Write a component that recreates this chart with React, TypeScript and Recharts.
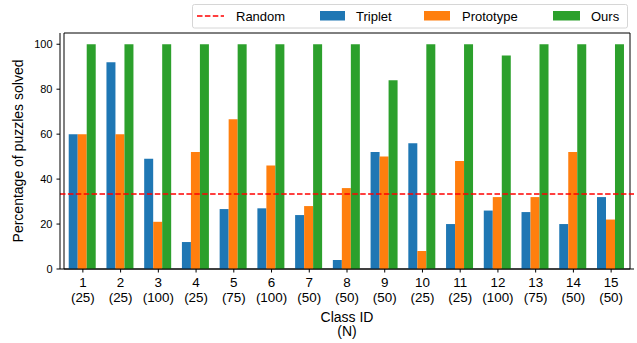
import React from 'react';
import { BarChart, Bar, XAxis, YAxis, ReferenceLine, ReferenceArea } from 'recharts';

const classIds = ['1', '2', '3', '4', '5', '6', '7', '8', '9', '10', '11', '12', '13', '14', '15'];
const classN = ['25', '25', '100', '25', '75', '100', '50', '50', '50', '25', '25', '100', '75', '50', '50'];
const triplet = [60, 92, 49, 12, 26.67, 27, 24, 4, 52, 56, 20, 26, 25.33, 20, 32];
const prototype = [60, 60, 21, 52, 66.67, 46, 28, 36, 50, 8, 48, 32, 32, 52, 22];
const ours = [100, 100, 100, 100, 100, 100, 100, 100, 84, 100, 100, 95, 100, 100, 100];
const randomLevel = 33.33;
const yTicks = [0, 20, 40, 60, 80, 100];

const seriesNames = { random: 'Random', triplet: 'Triplet', prototype: 'Prototype', ours: 'Ours' };
const colors = { triplet: '#1f77b4', prototype: '#ff7f0e', ours: '#2ca02c', random: '#ff0000' };

const data = classIds.map((id, i) => ({
  name: id,
  n: classN[i],
  triplet: triplet[i],
  prototype: prototype[i],
  ours: ours[i],
}));

const FONT = '"Liberation Sans", Arial, Helvetica, sans-serif';

const XTick = (props: any) => {
  const { x, y, payload, index } = props;
  const n = classN[index] ?? data.find((d) => d.name === payload.value)?.n;
  return (
    <text x={x} y={y} textAnchor="middle" fontSize={13.4} fontFamily={FONT} fill="#000">
      <tspan x={x} dy={12.8}>{payload.value}</tspan>
      <tspan x={x} dy={14.7}>({n})</tspan>
    </text>
  );
};

const XLabel = (props: any) => {
  const vb = props.viewBox || {};
  const cx = (vb.x ?? 60) + (vb.width ?? 574) / 2;
  const top = vb.y ?? 269;
  return (
    <text x={cx} y={top} textAnchor="middle" fontSize={14} fontFamily={FONT} fill="#000">
      <tspan x={cx} dy={52.7}>Class ID</tspan>
      <tspan x={cx} dy={13.8}>(N)</tspan>
    </text>
  );
};

const LegendBox = () => (
  <svg
    width={437}
    height={26}
    style={{ position: 'absolute', left: 192, top: 4, overflow: 'visible' }}
    fontFamily={FONT}
  >
    <rect x={0.5} y={0.5} width={435} height={23.5} rx={2} fill="#fff" stroke="#d6d6d6" strokeWidth={1} />
    <line x1={5} x2={32} y1={12} y2={12} stroke={colors.random} strokeWidth={1.5} strokeDasharray="5.5 2.4" />
    <text x={44} y={16.5} fontSize={13} fill="#000">{seriesNames.random}</text>
    <rect x={128} y={7} width={25} height={9.5} fill={colors.triplet} />
    <text x={164} y={16.5} fontSize={13} fill="#000">{seriesNames.triplet}</text>
    <rect x={232} y={7} width={26} height={9.5} fill={colors.prototype} />
    <text x={270} y={16.5} fontSize={13} fill="#000">{seriesNames.prototype}</text>
    <rect x={361} y={7} width={27} height={9.5} fill={colors.ours} />
    <text x={399} y={16.5} fontSize={13} fill="#000">{seriesNames.ours}</text>
  </svg>
);

export default function App() {
  return (
    <div style={{ position: 'absolute', left: 0, top: 0, width: 637, height: 343, background: '#fff' }}>
      <BarChart
        width={637}
        height={343}
        data={data}
        margin={{ top: 33, right: 3, bottom: 0, left: 0 }}
        barCategoryGap="12.5%"
        barGap={0}
      >
        <XAxis
          dataKey="name"
          height={74}
          tickSize={3.5}
          tickLine={{ stroke: '#000' }}
          axisLine={{ stroke: '#000' }}
          tick={<XTick />}
          interval={0}
          padding={{ left: 4, right: 4 }}
          label={<XLabel />}
        />
        <YAxis
          width={60}
          domain={[0, 105]}
          ticks={yTicks}
          allowDataOverflow
          tickSize={3.5}
          tickMargin={4}
          tickLine={{ stroke: '#000' }}
          axisLine={{ stroke: '#000' }}
          tick={{ fontSize: 11, fill: '#000', fontFamily: FONT }}
          label={{
            value: 'Percentage of puzzles solved',
            angle: -90,
            position: 'insideLeft',
            offset: 18.5,
            style: { textAnchor: 'middle', fontSize: 14, fill: '#000', fontFamily: FONT },
          }}
        />
        <ReferenceArea y1={0} y2={105} fill="none" stroke="#000" strokeWidth={1} fillOpacity={0} />
        <Bar dataKey="triplet" name={seriesNames.triplet} fill={colors.triplet} isAnimationActive={false} />
        <Bar dataKey="prototype" name={seriesNames.prototype} fill={colors.prototype} isAnimationActive={false} />
        <Bar dataKey="ours" name={seriesNames.ours} fill={colors.ours} isAnimationActive={false} />
        <ReferenceLine y={randomLevel} stroke={colors.random} strokeWidth={1.5} strokeDasharray="5.5 2.4" />
      </BarChart>
      <LegendBox />
    </div>
  );
}
